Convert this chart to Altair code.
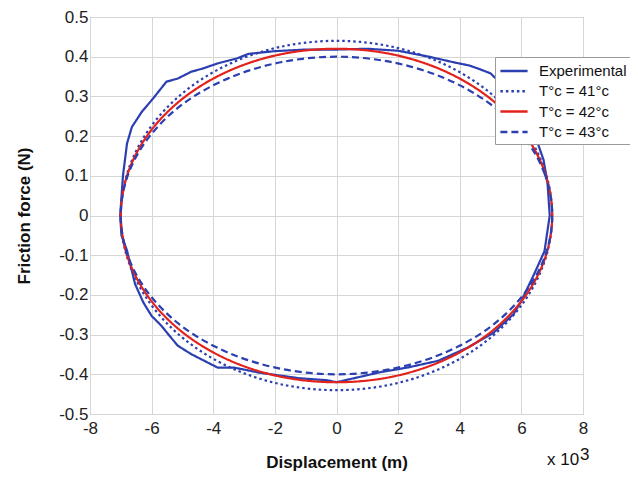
import altair as alt
import pandas as pd

# Experimental loop (displacement in 1e-3 m, friction force in N)
exp_x = [6.92, 6.85, 6.72, 6.45, 6.0, 5.5, 5.0, 4.6, 4.3, 3.8, 3.0, 2.0, 1.0, 0.0, -1.0,
         -2.0, -2.86, -3.22, -3.86, -4.35, -4.72, -5.15, -5.52, -5.95, -6.32, -6.64, -6.8, -6.93, -7.02,
         -6.98, -6.8, -6.54, -6.27, -6.0, -5.68, -5.42, -5.15, -4.72, -4.19, -3.86, -3.33, -2.5, -1.2,
         -0.3, 0.0, 0.9, 1.4, 2.3, 3.3, 4.25, 5.1, 5.75, 6.0, 6.4, 6.75]
exp_y = [0.0, 0.08, 0.14, 0.20, 0.27, 0.32, 0.358, 0.37, 0.378, 0.386, 0.40, 0.415, 0.42, 0.418, 0.418,
         0.414, 0.407, 0.396, 0.383, 0.370, 0.362, 0.345, 0.337, 0.295, 0.261, 0.223, 0.181, 0.1, 0.0,
         -0.05, -0.088, -0.172, -0.219, -0.253, -0.278, -0.303, -0.328, -0.349, -0.370, -0.383, -0.383, -0.396, -0.41,
         -0.415, -0.42, -0.404, -0.395, -0.383, -0.366, -0.333, -0.295, -0.248, -0.215, -0.15, -0.09]

# Model loops (same displacement points for the three temperatures)
mod_x = [7.0, 6.76, 6.06, 4.95, 3.5, 1.81, 0.0, -1.81, -3.5, -4.95, -6.06, -6.76,
         -7.0, -6.76, -6.06, -4.95, -3.5, -1.81, 0.0, 1.81, 3.5, 4.95, 6.06, 6.76]
y_41 = [0.0, 0.114, 0.22, 0.311, 0.381, 0.425, 0.44, 0.425, 0.381, 0.311, 0.22, 0.114,
        0.0, -0.114, -0.22, -0.311, -0.381, -0.425, -0.44, -0.425, -0.381, -0.311, -0.22, -0.114]
y_42 = [0.0, 0.109, 0.21, 0.297, 0.364, 0.406, 0.42, 0.406, 0.364, 0.297, 0.21, 0.109,
        0.0, -0.109, -0.21, -0.297, -0.364, -0.406, -0.42, -0.406, -0.364, -0.297, -0.21, -0.109]
y_43 = [0.0, 0.104, 0.20, 0.283, 0.346, 0.386, 0.40, 0.386, 0.346, 0.283, 0.20, 0.104,
        0.0, -0.104, -0.20, -0.283, -0.346, -0.386, -0.40, -0.386, -0.346, -0.283, -0.20, -0.104]

series_names = ["Experimental", "T°c = 41°c", "T°c = 42°c", "T°c = 43°c"]
series_colors = ["#2c3fb0", "#2c3fb0", "#e3221c", "#2c3fb0"]
series_dash = [[1, 0], [2.5, 3], [1, 0], [7, 4]]

x_ticks = [-8, -6, -4, -2, 0, 2, 4, 6, 8]
y_ticks = [-0.5, -0.4, -0.3, -0.2, -0.1, 0, 0.1, 0.2, 0.3, 0.4, 0.5]

rows = []
for i, (x, y) in enumerate(zip(exp_x, exp_y)):
    rows.append({"series": series_names[0], "i": i, "x": x, "y": y})
for name, ys in zip(series_names[1:], [y_41, y_42, y_43]):
    for i, (x, y) in enumerate(zip(mod_x, ys)):
        rows.append({"series": name, "i": i, "x": x, "y": y})
df = pd.DataFrame(rows)

FONT = "Liberation Sans"

x_enc = alt.X("x:Q", scale=alt.Scale(domain=[-8, 8], nice=False),
              axis=alt.Axis(values=x_ticks, title="Displacement (m)", grid=True,
                            ticks=False, labelPadding=6, titlePadding=18,
                            labelExpr="datum.value < 0 ? '-' + format(-datum.value, 'd') : format(datum.value, 'd')",
                            labelFontSize=17, titleFontSize=17, labelFont=FONT, titleFont=FONT,
                            titleFontWeight="bold", labelColor="#222222", titleColor="#111111",
                            domain=False, gridColor="#d6d6d6", labelFlush=False))
y_enc = alt.Y("y:Q", scale=alt.Scale(domain=[-0.5, 0.5], nice=False),
              axis=alt.Axis(values=y_ticks, title="Friction force (N)", grid=True,
                            ticks=False, labelPadding=2, titlePadding=25,
                            labelExpr="datum.value == 0 ? '0' : (datum.value < 0 ? '-' : '') + format(abs(datum.value), '.1f')",
                            labelFontSize=17, titleFontSize=17, labelFont=FONT, titleFont=FONT,
                            titleFontWeight="bold", labelColor="#222222", titleColor="#111111",
                            domain=False, gridColor="#d6d6d6", labelFlush=False))

legend_kw = dict(title=None, orient="none", legendX=405, legendY=40,
                 fillColor="white", strokeColor="#9a9a9a", padding=4,
                 symbolType="M-1.6,0h3.2", symbolSize=289, symbolStrokeWidth=2.5,
                 symbolOffset=5, labelOffset=15, rowPadding=2.3,
                 labelFontSize=15, labelFont=FONT, labelColor="#111111")

color_enc = alt.Color("series:N",
                      scale=alt.Scale(domain=series_names, range=series_colors),
                      legend=alt.Legend(**legend_kw))
dash_enc = alt.StrokeDash("series:N",
                          scale=alt.Scale(domain=series_names, range=series_dash),
                          legend=alt.Legend(**legend_kw))

base = alt.Chart(df).encode(x=x_enc, y=y_enc, color=color_enc, strokeDash=dash_enc,
                            order=alt.Order("i:Q"))

exp_layer = base.transform_filter(alt.datum.series == "Experimental").mark_line(
    interpolate="linear-closed", strokeWidth=2.2)
mod_layer = base.transform_filter(alt.datum.series != "Experimental").mark_line(
    interpolate="cardinal-closed", strokeWidth=2.2)

note = alt.Chart(pd.DataFrame({"t": ["x 10"]})).mark_text(
    align="left", baseline="alphabetic", fontSize=17, font=FONT, color="#111111"
).encode(text="t:N", x=alt.value(457), y=alt.value(448))
note_sup = alt.Chart(pd.DataFrame({"t": ["3"]})).mark_text(
    align="left", baseline="alphabetic", fontSize=17, font=FONT, color="#111111"
).encode(text="t:N", x=alt.value(490), y=alt.value(443))

chart = alt.layer(exp_layer, mod_layer, note, note_sup).properties(
    width=493, height=397,
    autosize=alt.AutoSizeParams(type="none"),
    padding={"left": 82, "top": 9, "right": 47, "bottom": 57},
    background="white",
).configure_view(stroke="#a0a0a0", strokeWidth=1)

chart.save("out.html", embed_options={"renderer": "svg", "actions": False})
